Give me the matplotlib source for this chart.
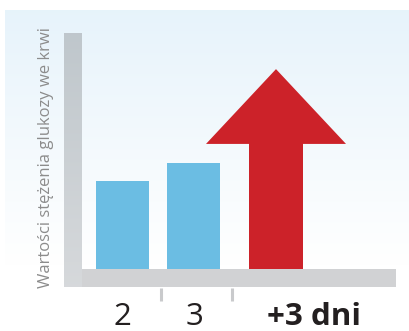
import numpy as np
import matplotlib
matplotlib.use("Agg")
import matplotlib.pyplot as plt
from matplotlib.patches import Polygon, Rectangle

# ---- data ----
categories = ["2", "3", "+3 dni"]
bar_values = [37.3, 44.9]          # blue bars (relative glucose level)
arrow_value = 84.7                 # height of red arrow tip
arrow_head_base = 53.0             # where arrow head begins
y_label = "Wartości stężenia glukozy we krwi"

# ---- layout (pixel-like x units, value y units) ----
W, H = 410, 331
PX = 2.36                      # pixels per value unit
Y0 = 269                       # pixel row of value 0
bar_x = [122.5, 193.5]
bar_w = 53
arrow_x = 276
shaft_w = 54
head_w = 140
label_x = [122.5, 195, 314.5]
tick_x = [161.5, 232]

def vy(py):
    return (Y0 - py) / PX

fig = plt.figure(figsize=(W / 100, H / 100), dpi=100)
ax = fig.add_axes([0, 0, 1, 1])
ax.set_xlim(0, W)
ax.set_ylim(vy(H), vy(0))
ax.axis("off")

# background gradient
grad = np.linspace(0, 1, 256).reshape(-1, 1)
top = np.array([0.905, 0.953, 0.984])
bot = np.array([1.0, 1.0, 1.0])
img = top * (1 - grad) + bot * grad
img = img.reshape(256, 1, 3)
ax.imshow(img, extent=[5, W, vy(265), vy(10)], aspect="auto", zorder=0,
          interpolation="bicubic")

# vertical axis bar (gradient gray)
g2 = np.linspace(0, 1, 256).reshape(-1, 1)
c_top = np.array([0.75, 0.78, 0.80])
c_bot = np.array([0.84, 0.85, 0.86])
img2 = (c_top * (1 - g2) + c_bot * g2).reshape(256, 1, 3)
ax.imshow(img2, extent=[64, 82, vy(287), vy(33)], aspect="auto", zorder=1)
# horizontal axis bar
ax.add_patch(Rectangle((82, vy(287)), 396 - 82, vy(269) - vy(287),
                       facecolor="#d1d2d4", edgecolor="none", zorder=1))

# ticks
for tx in tick_x:
    ax.plot([tx, tx], [vy(288), vy(301)], color="#c9cacc", lw=2.2,
            solid_capstyle="butt", zorder=1)

# bars
ax.bar(bar_x, bar_values, width=bar_w, bottom=0, color="#6bbde3",
       edgecolor="none", zorder=2)

# arrow
arrow = Polygon([
    (arrow_x - shaft_w / 2, 0),
    (arrow_x + shaft_w / 2, 0),
    (arrow_x + shaft_w / 2, arrow_head_base),
    (arrow_x + head_w / 2, arrow_head_base),
    (arrow_x, arrow_value),
    (arrow_x - head_w / 2, arrow_head_base),
    (arrow_x - shaft_w / 2, arrow_head_base),
], closed=True, facecolor="#cc2229", edgecolor="none", zorder=2)
ax.add_patch(arrow)

# category labels
for i, (lx, lab) in enumerate(zip(label_x, categories)):
    ax.text(lx, vy(325), lab, ha="center", va="baseline",
            fontsize=22.5, fontfamily="Open Sans",
            fontweight="bold" if i == 2 else "normal",
            color="#231f20", zorder=3)

# y label
ax.text(46, vy(157.5), y_label, rotation=90, ha="center", va="center",
        fontsize=12, fontfamily="Open Sans", color="#8c8c8c", zorder=3)

fig.savefig("out.png", dpi=100)
